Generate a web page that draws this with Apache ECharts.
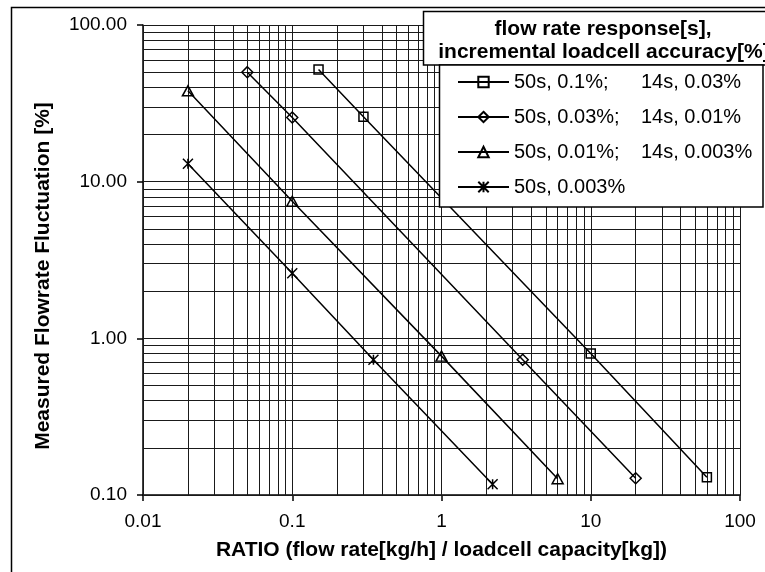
<!DOCTYPE html>
<html>
<head>
<meta charset="utf-8">
<script src="https://cdn.jsdelivr.net/npm/echarts@6/dist/echarts.min.js"></script>
<style>html,body{margin:0;padding:0;background:#fff;}#c{width:765px;height:572px;}</style>
</head>
<body>
<div id="c"></div>
<script>
// ---- data ----
var legendPart1 = ['50s, 0.1%;', '50s, 0.03%;', '50s, 0.01%;', '50s, 0.003%'];
var legendPart2 = ['14s, 0.03%', '14s, 0.01%', '14s, 0.003%', ''];
var squareX = [0.15, 0.3, 10, 60];
var squareY = [52, 26, 0.8, 0.13];
var diamondX = [0.05, 0.1, 3.5, 20];
var diamondY = [50, 25.7, 0.73, 0.128];
var triangleX = [0.02, 0.1, 1, 6];
var triangleY = [38, 7.5, 0.77, 0.127];
var starX = [0.02, 0.1, 0.35, 2.2];
var starY = [13, 2.6, 0.73, 0.117];
var xTickValues = [0.01, 0.1, 1, 10, 100];
var xTickLabels = ['0.01', '0.1', '1', '10', '100'];
var yTickValues = [0.1, 1, 10, 100];
var yTickLabels = ['0.10', '1.00', '10.00', '100.00'];
var titleLines = ['flow rate response[s],', 'incremental loadcell accuracy[%]'];
var xTitle = 'RATIO (flow rate[kg/h] / loadcell capacity[kg])';
var yTitle = 'Measured Flowrate Fluctuation [%]';

function zip(xs, ys) { return xs.map(function (x, i) { return [x, ys[i]]; }); }
function labelFor(values, labels, v) {
  for (var i = 0; i < values.length; i++) {
    if (Math.abs(Math.log10(v) - Math.log10(values[i])) < 1e-6) return labels[i];
  }
  return '';
}
// grid line values (decades and their 2..9 multiples)
var xGrid = [], yGrid = [];
[0.01, 0.1, 1, 10].forEach(function (d) { for (var k = 1; k <= 9; k++) xGrid.push(d * k); });
xGrid.push(100);
[0.1, 1, 10].forEach(function (d) { for (var k = 1; k <= 9; k++) yGrid.push(d * k); });
yGrid.push(100);

var FONT = '"Liberation Sans", Arial, sans-serif';
var starPath = 'path://M0,0L10,10M10,0L0,10M5,0L5,10';

var markerStyle = { color: 'rgba(0,0,0,0)', borderColor: '#000', borderWidth: 1.5 };
var lineStyle = { color: '#000', width: 1.5 };

function dataSeries(idx, xs, ys, symbol, size) {
  return {
    type: 'line', name: legendPart1[idx], data: zip(xs, ys),
    symbol: symbol, symbolSize: size, showAllSymbol: true,
    itemStyle: markerStyle, lineStyle: lineStyle, z: 5,
    emphasis: { disabled: true }
  };
}

var gridMarks = xGrid.map(function (v) { return { xAxis: v }; })
  .concat(yGrid.map(function (v) { return { yAxis: v }; }));

var chart = echarts.init(document.getElementById('c'), null, { renderer: 'canvas' });
var option = {
  animation: false,
  backgroundColor: '#fff',
  grid: { left: 143, right: 25, top: 25, bottom: 77 },
  xAxis: {
    type: 'log', logBase: 10, min: 0.01, max: 100,
    axisLine: { show: true, onZero: false, lineStyle: { color: '#000', width: 1.5 } },
    axisTick: { show: true, length: 6, lineStyle: { color: '#000', width: 1.5 } },
    axisLabel: { margin: 17, color: '#000', fontFamily: FONT, fontSize: 19,
      formatter: function (v) { return labelFor(xTickValues, xTickLabels, v); } },
    splitLine: { show: false },
    name: xTitle, nameLocation: 'middle', nameGap: 45,
    nameTextStyle: { color: '#000', fontFamily: FONT, fontSize: 21, fontWeight: 'bold' }
  },
  yAxis: {
    type: 'log', logBase: 10, min: 0.1, max: 100,
    axisLine: { show: true, onZero: false, lineStyle: { color: '#000', width: 1.5 } },
    axisTick: { show: true, length: 6, lineStyle: { color: '#000', width: 1.5 } },
    axisLabel: { margin: 16, color: '#000', fontFamily: FONT, fontSize: 19,
      formatter: function (v) { return labelFor(yTickValues, yTickLabels, v); } },
    splitLine: { show: false }
  },
  legend: {
    show: true, orient: 'vertical', left: 457, top: 72, padding: 0,
    itemWidth: 51, itemHeight: 13, itemGap: 15,
    data: legendPart1,
    selectedMode: false,
    textStyle: { color: '#000', fontFamily: FONT, fontSize: 20, lineHeight: 20,
      rich: {
        a: { width: 127, fontFamily: FONT, fontSize: 20, lineHeight: 20, color: '#000' },
        b: { fontFamily: FONT, fontSize: 20, lineHeight: 20, color: '#000' }
      } },
    formatter: function (name) {
      var i = legendPart1.indexOf(name);
      return '{a|' + legendPart1[i] + '}{b|' + legendPart2[i] + '}';
    },
    z: 20
  },
  graphic: [
    { type: 'rect', shape: { x: 11.5, y: 7.5, width: 900, height: 700 }, style: { fill: 'none', stroke: '#000', lineWidth: 1.5 }, z: 1, silent: true },
    { type: 'rect', shape: { x: 423.5, y: 11.5, width: 400, height: 53.5 }, style: { fill: '#fff', stroke: '#000', lineWidth: 1.5 }, z: 10, silent: true },
    { type: 'rect', shape: { x: 439.5, y: 65, width: 323.5, height: 142 }, style: { fill: '#fff', stroke: '#000', lineWidth: 1.5 }, z: 10, silent: true },
    { type: 'text', x: 603, y: 29, style: { text: titleLines[0], fill: '#000', font: 'bold 21px ' + FONT, align: 'center', verticalAlign: 'middle' }, z: 11, silent: true },
    { type: 'text', x: 604, y: 52, style: { text: titleLines[1], fill: '#000', font: 'bold 21px ' + FONT, align: 'center', verticalAlign: 'middle' }, z: 11, silent: true },
    { type: 'text', x: 43, y: 276, rotation: Math.PI / 2, style: { text: yTitle, fill: '#000', font: 'bold 21px ' + FONT, align: 'center', verticalAlign: 'middle' }, z: 11, silent: true }
  ],
  series: [
    {
      type: 'line', name: 'grid', data: [], silent: true, z: 1,
      markLine: {
        silent: true, symbol: ['none', 'none'], animation: false,
        label: { show: false },
        lineStyle: { color: '#1a1a1a', width: 1, type: 'solid' },
        emphasis: { disabled: true },
        data: gridMarks
      }
    },
    dataSeries(0, squareX, squareY, 'rect', 9),
    dataSeries(1, diamondX, diamondY, 'diamond', 11),
    dataSeries(2, triangleX, triangleY, 'triangle', [11, 10]),
    dataSeries(3, starX, starY, starPath, 10)
  ]
};
chart.setOption(option);
</script>
</body>
</html>
